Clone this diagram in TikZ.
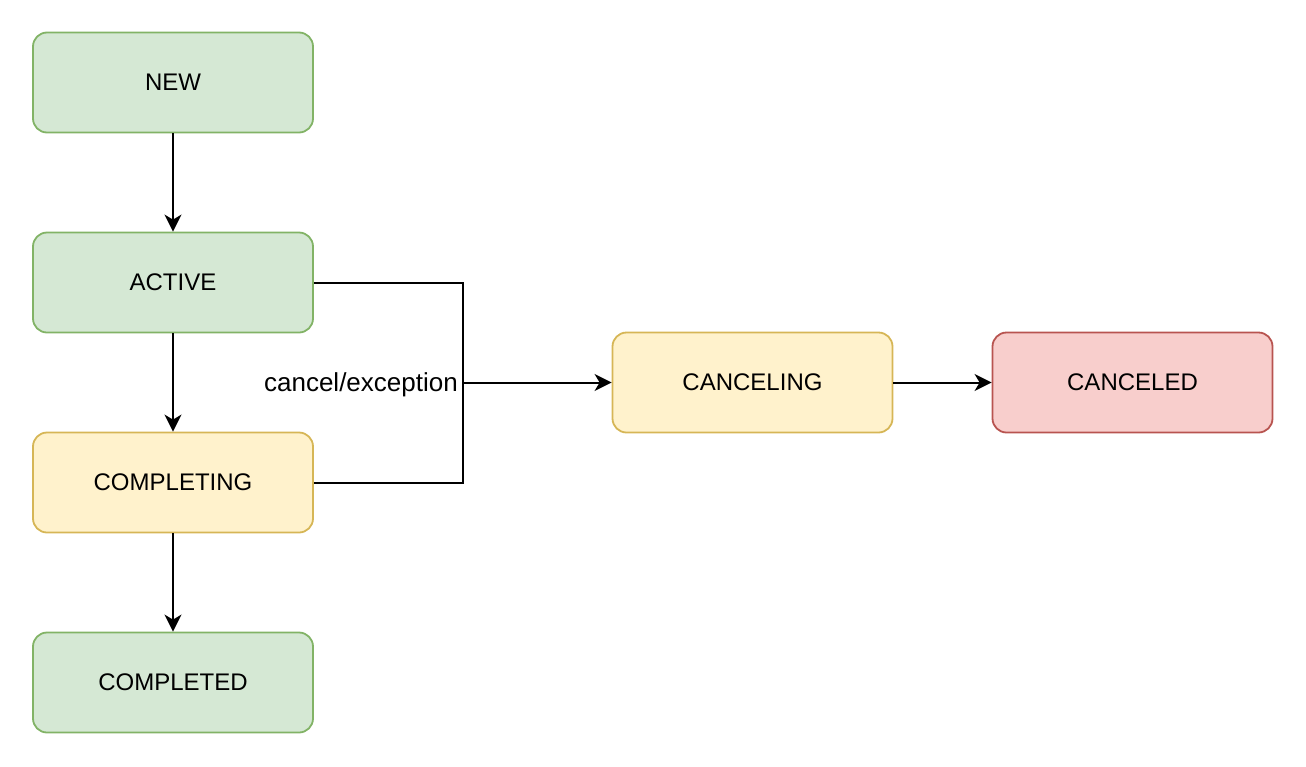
\documentclass[tikz,border=0pt]{standalone}
\usepackage{fontspec}
\setmainfont{Liberation Sans}
\usetikzlibrary{arrows.meta}
\definecolor{gfill}{HTML}{D5E8D4}\definecolor{gdraw}{HTML}{82B366}
\definecolor{yfill}{HTML}{FFF2CC}\definecolor{ydraw}{HTML}{D6B656}
\definecolor{rfill}{HTML}{F8CECC}\definecolor{rdraw}{HTML}{B85450}
\tikzset{
  state/.style={rectangle, rounded corners=14pt, minimum width=280pt, minimum height=100pt, line width=1.8pt, font=\fontsize{24}{28}\selectfont, inner sep=0pt},
  green/.style={state, fill=gfill, draw=gdraw},
  yellow/.style={state, fill=yfill, draw=ydraw},
  red/.style={state, fill=rfill, draw=rdraw},
  conn/.style={line width=2pt, draw=black},
  arr/.style={conn, -{Stealth[length=17pt,width=17pt,inset=5pt]}},
}
\begin{document}
\begin{tikzpicture}[x=1pt,y=-1pt]
\useasboundingbox (0,0) rectangle (1306,766);
\node[green] (new) at (173,82.5) {NEW};
\node[green] (active) at (173,282.5) {ACTIVE};
\node[yellow] (completing) at (173,482.5) {COMPLETING};
\node[green] (completed) at (173,682.5) {COMPLETED};
\node[yellow] (canceling) at (752.5,382.5) {CANCELING};
\node[red] (canceled) at (1132.5,382.5) {CANCELED};
\coordinate (j) at (463,382.5);
\node[anchor=east, font=\fontsize{26}{30}\selectfont, inner sep=0pt] (lbl) at (458,385) {cancel/exception};
\draw[arr] (new) -- (active);
\draw[arr] (active) -- (completing);
\draw[arr] (completing) -- (completed);
\draw[conn] (active.east) -| (j);
\draw[conn] (completing.east) -| (j);
\draw[arr] (j) -- (canceling);
\draw[arr] (canceling) -- (canceled);
\end{tikzpicture}
\end{document}
